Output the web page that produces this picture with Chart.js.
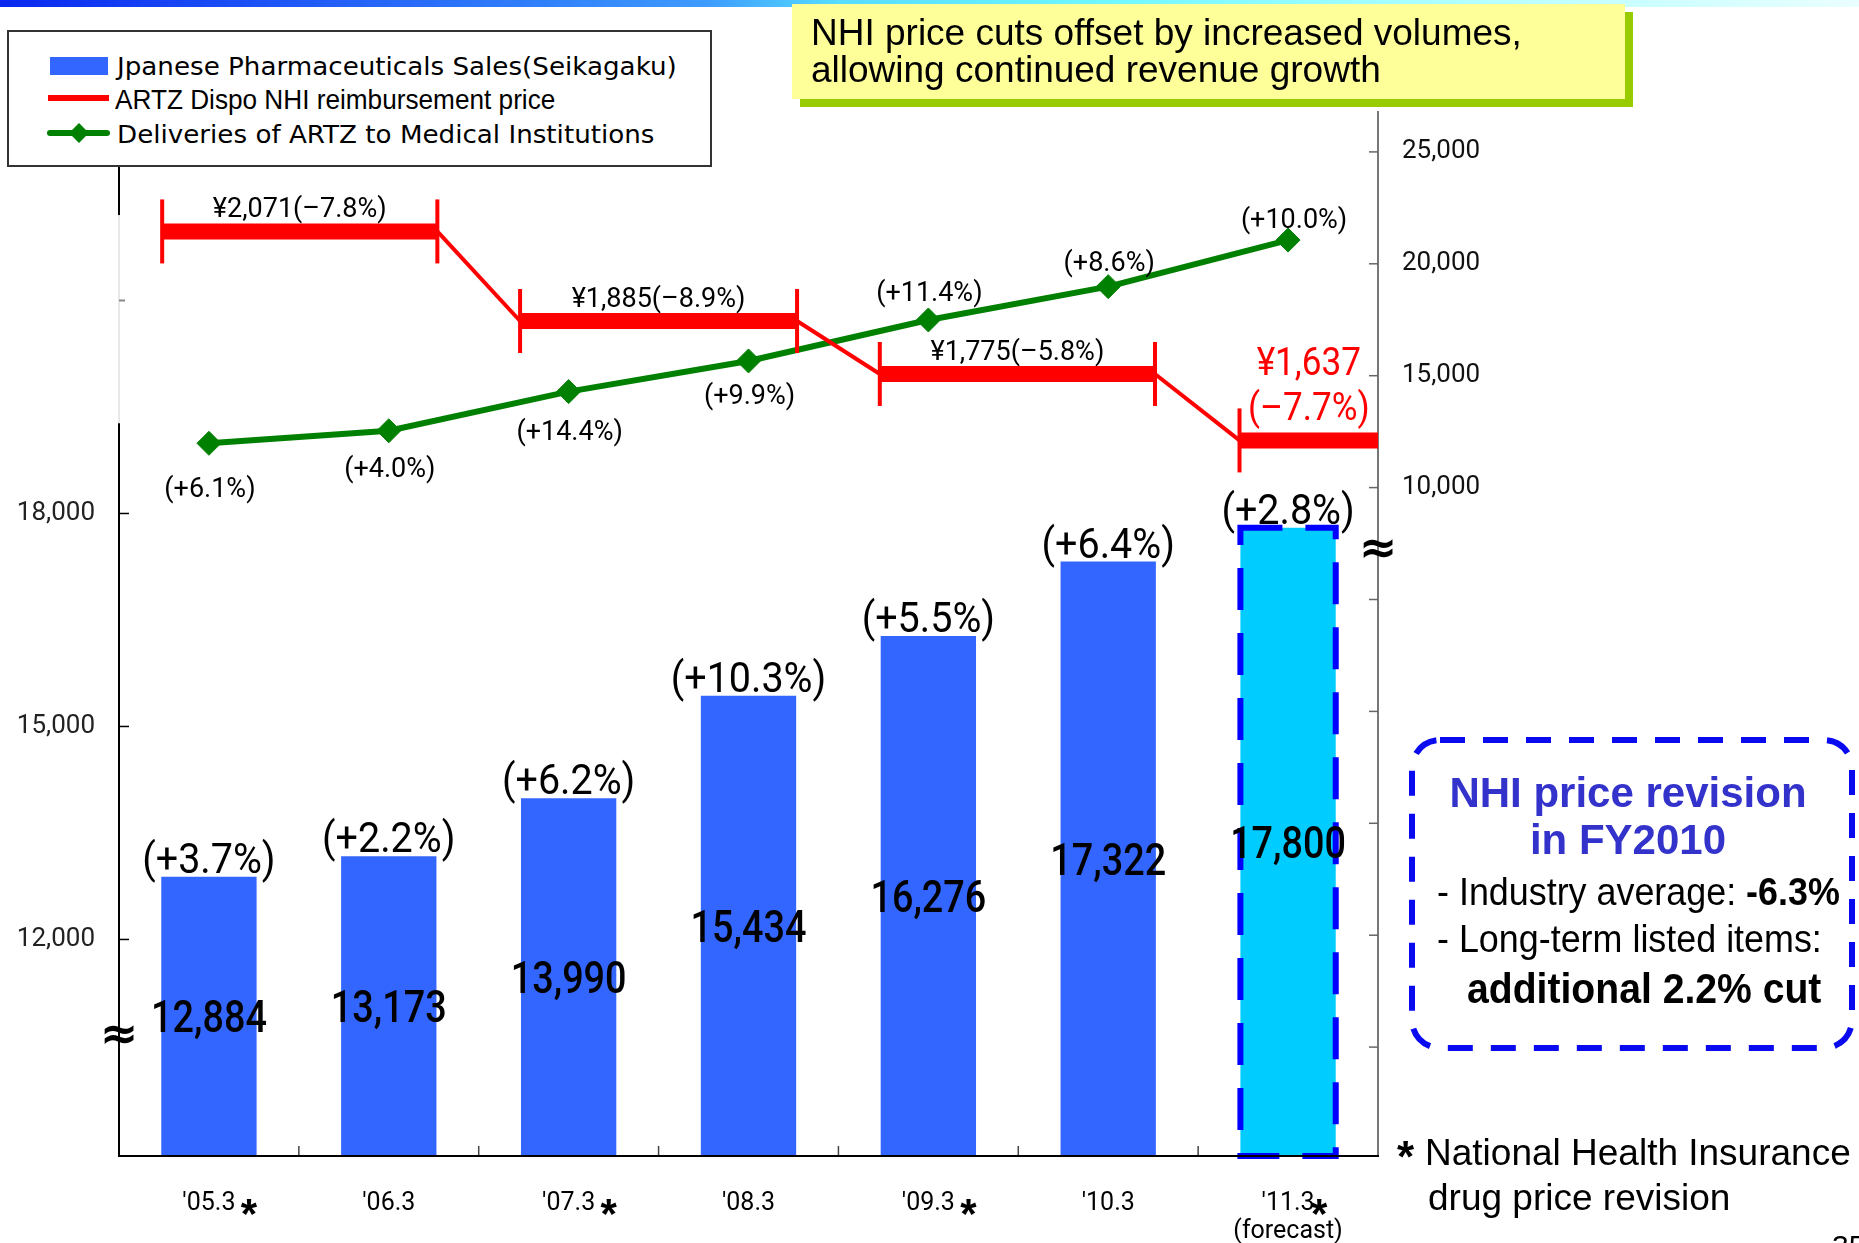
<!DOCTYPE html>
<html lang="en">
<head>
<meta charset="utf-8">
<title>Japanese Pharmaceuticals Sales</title>
<script src="https://cdn.jsdelivr.net/npm/chart.js@4.4.1/dist/chart.umd.min.js"></script>
<style>
    html, body { margin: 0; padding: 0; background: #fff; }
    body { position: relative; width: 1859px; height: 1243px; overflow: hidden; font-family: 'Liberation Sans', Arial, sans-serif; }
    #topBar { position: absolute; left: 0; top: 0; width: 1859px; height: 7px;
        background: linear-gradient(to right, #0a28f0 0%, #3d9bff 38%, #55dcff 45%, #70f8ff 60%, #b5ffff 80%, #eaffff 100%); }
    #chartCanvas { position: absolute; left: 0; top: 0; }
    .txt { position: absolute; white-space: nowrap; }
    .swatch { position: absolute; }
    #legendBox { position: absolute; left: 7px; top: 30px; width: 705px; height: 137px; box-sizing: border-box; border: 2px solid #333; background: #fff; }
    #callout { position: absolute; left: 792px; top: 4px; width: 833px; height: 95px; background: #ffff99; box-shadow: 8px 8px 0 #99cc00; }
    #revisionBox { position: absolute; left: 1409px; top: 737px; }
</style>
</head>
<body>
<div id="topBar"></div>
<canvas id="chartCanvas" width="1859" height="1243"></canvas>

<div id="legendBox"></div>
<div class="swatch" style="left:50px;top:57px;width:58px;height:18px;background:#3366ff"></div>
<div class="swatch" style="left:48px;top:95px;width:61px;height:6px;background:#ff0000"></div>
<div class="swatch" style="left:47px;top:130px;width:63px;height:6px;background:#008000;border-radius:3px"></div>
<div class="swatch" style="left:72px;top:126px;width:14px;height:14px;background:#008000;transform:rotate(45deg)"></div>

<div id="callout"></div>

<svg id="revisionBox" width="446" height="314">
    <rect x="3" y="3" width="440" height="308" rx="28" ry="28" fill="none" stroke="#0a0af0" stroke-width="6" stroke-dasharray="25 18"></rect>
</svg>

<script>
const categories = ["'05.3", "'06.3", "'07.3", "'08.3", "'09.3", "'10.3", ["'11.3", '(forecast)']];
const salesValues = [12884, 13173, 13990, 15434, 16276, 17322, 17800];
const salesGrowth = ['(+3.7%)', '(+2.2%)', '(+6.2%)', '(+10.3%)', '(+5.5%)', '(+6.4%)', '(+2.8%)'];
const deliveryValues = [11980, 12540, 14290, 15660, 17490, 18980, 21060];
const deliveryGrowth = ['(+6.1%)', '(+4.0%)', '(+14.4%)', '(+9.9%)', '(+11.4%)', '(+8.6%)', '(+10.0%)'];
// NHI price periods (x in category units, each step spans two fiscal years)
const priceX = [-0.26, 1.27, 1.73, 3.27, 3.73, 5.26, 5.73, 6.5];
const priceY = [2071, 2071, 1885, 1885, 1775, 1775, 1637, 1637];
const priceLabels = ['¥2,071(–7.8%)', '¥1,885(–8.9%)', '¥1,775(–5.8%)', '¥1,637', '(–7.7%)'];
const revisionYears = [true, false, true, false, true, false, true];
const salesTicks = [12000, 15000, 18000, 21000];
const salesTickLabels = [12000, 15000, 18000];
const deliveryTicks = [-15000, -10000, -5000, 0, 5000, 10000, 15000, 20000, 25000];
const deliveryTickLabels = [10000, 15000, 20000, 25000];

// axis ranges (both value axes are broken, so they do not start at zero)
const salesMin = 8950, salesMax = 23655;
const deliveryMin = -19866, deliveryMax = 26783;
const priceMin = 151, priceMax = 2319;

const blue = '#3366ff';
const cyan = '#00ccff';
const red = '#ff0000';
const green = '#008000';

function drawLabel(ctx, text, x, y, font, color, sx) {
    ctx.save();
    ctx.translate(x, y);
    ctx.scale(sx || 1, 1);
    ctx.font = font;
    ctx.fillStyle = color;
    ctx.textAlign = 'center';
    ctx.textBaseline = 'alphabetic';
    ctx.fillText(text, 0, 0);
    ctx.restore();
}

function line(ctx, x1, y1, x2, y2, color, width) {
    ctx.strokeStyle = color;
    ctx.lineWidth = width;
    ctx.beginPath();
    ctx.moveTo(x1, y1);
    ctx.lineTo(x2, y2);
    ctx.stroke();
}

const chartExtras = {
    id: 'chartExtras',
    afterDatasetsDraw(chart) {
        const ctx = chart.ctx;
        const area = chart.chartArea;
        const xs = chart.scales.x;
        const yl = chart.scales.ySales;
        const yr = chart.scales.yDeliv;

        ctx.save();

        // left axis: faint where it passes behind the price steps
        const gapTop = yl.getPixelForValue(22200);
        const gapBottom = yl.getPixelForValue(19270);
        line(ctx, area.left, area.top, area.left, gapTop, '#000', 2);
        line(ctx, area.left, gapTop, area.left, gapBottom, '#e8e8e8', 2);
        line(ctx, area.left, gapBottom, area.left, area.bottom, '#000', 2);

        // tick marks pointing into the plot
        yl.ticks.forEach(t => {
            const y = yl.getPixelForValue(t.value);
            if (salesTickLabels.includes(t.value)) line(ctx, area.left, y, area.left + 10, y, '#000', 1.5);
            else line(ctx, area.left, y, area.left + 6, y, '#888', 2);
        });
        yr.ticks.forEach(t => {
            const y = yr.getPixelForValue(t.value);
            line(ctx, area.right - 9, y, area.right, y, '#666', 1.5);
        });
        for (let i = 0; i < categories.length - 1; i++) {
            const x = (xs.getPixelForValue(i) + xs.getPixelForValue(i + 1)) / 2;
            line(ctx, x, area.bottom - 10, x, area.bottom, '#444', 1.5);
        }

        // dashed outline around the forecast bar
        const bars = chart.getDatasetMeta(2).data;
        const fb = bars[bars.length - 1];
        ctx.strokeStyle = '#0000ff';
        ctx.lineWidth = 6;
        ctx.setLineDash([42, 23]);
        ctx.strokeRect(fb.x - fb.width / 2, fb.y, fb.width, fb.base - fb.y);
        ctx.setLineDash([]);

        // bar values and growth
        bars.forEach((bar, i) => {
            const mid = (bar.y + bar.base) / 2;
            drawLabel(ctx, salesValues[i].toLocaleString('en-US'), bar.x, mid + 16, '500 45px Roboto', '#000', 0.84);
            drawLabel(ctx, salesGrowth[i], bar.x, bar.y - 4, '42px Roboto', '#000', 0.94);
        });

        // delivery growth, under the first four points and over the rest
        const labelShift = [54, 46, 48, 43, -19, -16, -12];
        chart.getDatasetMeta(1).data.forEach((pt, i) => {
            drawLabel(ctx, deliveryGrowth[i], pt.x + (i === 6 ? 6 : 1), pt.y + labelShift[i], '27px Roboto', '#000', 1);
        });

        // price labels over each step
        const steps = chart.getDatasetMeta(0).data;
        for (let k = 0; k < 3; k++) {
            const a = steps[2 * k], b = steps[2 * k + 1];
            drawLabel(ctx, priceLabels[k], (a.x + b.x) / 2, a.y - 14, '27px Roboto', '#000', 1);
        }
        const a = steps[6], b = steps[7];
        drawLabel(ctx, priceLabels[3], (a.x + b.x) / 2, a.y - 65, '39px Roboto', red, 0.9);
        drawLabel(ctx, priceLabels[4], (a.x + b.x) / 2, a.y - 20, '39px Roboto', red, 0.9);

        // axis break marks
        drawLabel(ctx, '≈', area.left, yl.getPixelForValue(10680) + 16, 'bold 46px "DejaVu Sans"', '#000', 1);
        drawLabel(ctx, '≈', area.right, yr.getPixelForValue(7350) + 16, 'bold 46px "DejaVu Sans"', '#000', 1);

        // asterisks for NHI price revision years
        revisionYears.forEach((rev, i) => {
            if (!rev) return;
            const last = i === revisionYears.length - 1;
            const x = xs.getPixelForValue(i) + (last ? 31 : 40);
            drawLabel(ctx, '*', x, 1228, 'bold 42px "Liberation Sans"', '#000', 1);
        });

        ctx.restore();
    }
};

const ctx = document.getElementById('chartCanvas').getContext('2d');

const chartData = {
    type: 'bar',
    data: {
        labels: categories,
        datasets: [
            {
                type: 'line',
                label: 'ARTZ Dispo NHI reimbursement price',
                data: priceX.map((x, i) => ({ x: x, y: priceY[i] })),
                xAxisID: 'xPrice',
                yAxisID: 'yPrice',
                borderColor: red,
                borderWidth: 4,
                borderCapStyle: 'butt',
                segment: {
                    borderWidth: c => (c.p0DataIndex % 2 === 0 ? 16 : 4)
                },
                pointStyle: 'line',
                rotation: 90,
                pointRadius: priceX.map((x, i) => (i < priceX.length - 1 ? 32 : 0)),
                pointBorderColor: red,
                pointBorderWidth: 4,
                tension: 0,
                order: 0
            },
            {
                type: 'line',
                label: 'Deliveries of ARTZ to Medical Institutions',
                data: deliveryValues,
                xAxisID: 'x',
                yAxisID: 'yDeliv',
                borderColor: green,
                borderWidth: 6,
                pointStyle: 'rectRot',
                pointRadius: 12,
                pointBackgroundColor: green,
                pointBorderColor: green,
                pointBorderWidth: 1,
                tension: 0,
                order: 1
            },
            {
                type: 'bar',
                label: 'Jpanese Pharmaceuticals Sales(Seikagaku)',
                data: salesValues,
                xAxisID: 'x',
                yAxisID: 'ySales',
                base: salesMin,
                grouped: false,
                backgroundColor: salesValues.map((v, i) => (i === salesValues.length - 1 ? cyan : blue)),
                categoryPercentage: 1,
                barPercentage: 0.53,
                order: 2
            }
        ]
    },
    options: {
        responsive: false,
        animation: false,
        events: [],
        layout: { padding: { top: 112, left: 0, right: 0, bottom: 0 } },
        plugins: {
            legend: { display: false },
            tooltip: { enabled: false }
        },
        scales: {
            x: {
                type: 'category',
                offset: true,
                grid: { display: false, drawTicks: false },
                border: { display: true, color: '#000', width: 2, z: 1 },
                ticks: {
                    color: '#000',
                    font: { family: 'Roboto', size: 25, lineHeight: 1.1 },
                    padding: 34,
                    maxRotation: 0,
                    autoSkip: false
                },
                afterFit: s => { s.height = 87; }
            },
            xPrice: { type: 'linear', display: false, offset: false, min: -0.5, max: 6.5 },
            ySales: {
                type: 'linear',
                position: 'left',
                min: salesMin,
                max: salesMax,
                grid: { display: false, drawTicks: false },
                border: { display: false },
                afterBuildTicks: s => { s.ticks = salesTicks.map(v => ({ value: v })); },
                ticks: {
                    color: '#222',
                    padding: 24,
                    font: { family: 'Roboto', size: 26 },
                    callback: v => (salesTickLabels.includes(v) ? v.toLocaleString('en-US') : '')
                },
                afterFit: s => { s.width = 119; }
            },
            yDeliv: {
                type: 'linear',
                position: 'right',
                min: deliveryMin,
                max: deliveryMax,
                grid: { display: false, drawTicks: false },
                border: { display: true, color: '#777', width: 2 },
                afterBuildTicks: s => { s.ticks = deliveryTicks.map(v => ({ value: v })); },
                ticks: {
                    color: '#111',
                    padding: 24,
                    font: { family: 'Roboto', size: 26 },
                    callback: v => (deliveryTickLabels.includes(v) ? v.toLocaleString('en-US') : '')
                },
                afterFit: s => { s.width = 481; }
            },
            yPrice: { type: 'linear', display: false, min: priceMin, max: priceMax }
        }
    },
    plugins: [chartExtras]
};

const salesChart = new Chart(ctx, chartData);

// text outside the plot area
function addText(html, x, baseline, size, opts) {
    opts = opts || {};
    const el = document.createElement('div');
    el.className = 'txt';
    el.innerHTML = html;
    el.style.font = (opts.weight || 'normal') + ' ' + size + 'px ' + (opts.family || "'Liberation Sans', Arial, sans-serif");
    el.style.lineHeight = size + 'px';
    el.style.color = opts.color || '#000';
    el.style.top = (baseline - size * 0.846) + 'px';
    if (opts.center) {
        el.style.left = (x - 300) + 'px';
        el.style.width = '600px';
        el.style.textAlign = 'center';
        el.style.transformOrigin = '50% 50%';
    } else {
        el.style.left = x + 'px';
        el.style.transformOrigin = '0 50%';
    }
    if (opts.sx) el.style.transform = 'scaleX(' + opts.sx + ')';
    document.body.appendChild(el);
}

addText('Jpanese Pharmaceuticals Sales(Seikagaku)', 117, 75, 24, { family: "'DejaVu Sans'", sx: 1.09 });
addText('ARTZ Dispo NHI reimbursement price', 115, 110, 28, { sx: 0.935 });
addText('Deliveries of ARTZ to Medical Institutions', 117, 143, 24, { family: "'DejaVu Sans'", sx: 1.09 });

addText('NHI price cuts offset by increased volumes,', 811, 45, 37);
addText('allowing continued revenue growth', 811, 82, 37);

addText('NHI price revision', 1628, 808, 42, { weight: 'bold', color: '#3333cc', center: true });
addText('in FY2010', 1628, 855, 42, { weight: 'bold', color: '#3333cc', center: true });
addText('- Industry average: <b>-6.3%</b>', 1437, 905, 39, { sx: 0.92 });
addText('- Long-term listed items:', 1437, 952, 39, { sx: 0.92 });
addText('additional 2.2% cut', 1467, 1003, 43, { weight: 'bold', sx: 0.91 });

addText('*', 1397, 1172, 44, { weight: 'bold' });
addText('National Health Insurance', 1425, 1165, 37);
addText('drug price revision', 1428, 1210, 37);
addText('35', 1832, 1256, 30);
</script>
</body>
</html>
